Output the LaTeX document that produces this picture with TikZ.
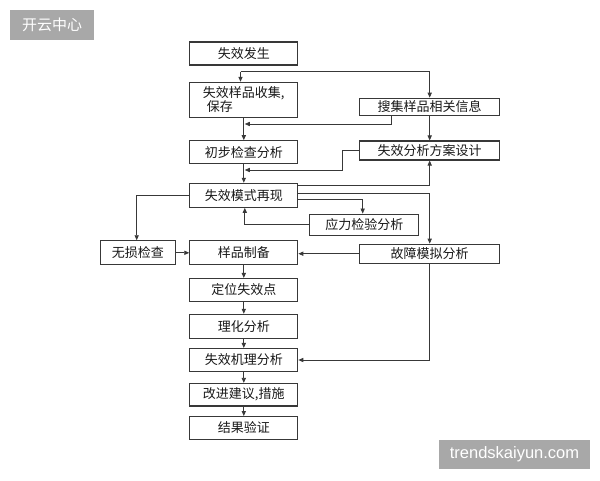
\documentclass[tikz,border=0pt]{standalone}
\usepackage{fontspec}
\setmainfont{Noto Sans CJK SC}
\newfontfamily\latinfont{Liberation Sans}
\usetikzlibrary{arrows.meta}
\definecolor{linec}{HTML}{383838}
\definecolor{wmgrey}{HTML}{A8A8A8}
\begin{document}
\begin{tikzpicture}[x=1pt,y=-1pt,
  box/.style={draw=linec,line width=1.1pt,inner sep=0pt,text=black!90,
    font=\fontsize{13}{14}\selectfont},
  conn/.style={draw=linec,line width=0.8pt,-{Triangle[length=5pt,width=4.2pt]}},
  wmark/.style={fill=wmgrey,inner sep=0pt,text=white}]
\useasboundingbox[fill=white] (0,0) rectangle (600,480);

% watermarks
\node[wmark,minimum width=84pt,minimum height=30pt,font=\fontsize{15}{16}\selectfont] (wm1) at (52,25) {开云中心};
\node[wmark,minimum width=151pt,minimum height=29pt,font=\latinfont\fontsize{16.5}{17}\selectfont] (wm2) at (514.5,454.6) {trendskaiyun.com};

% boxes
\node[box,minimum width=108pt,minimum height=23pt] (A) at (243.8,53.5) {失效发生};
\node[box,minimum width=108pt,minimum height=35pt,align=left] (B) at (243.8,99.8) {失效样品收集,\\\hspace{4pt}保存};
\node[box,minimum width=140pt,minimum height=17pt] (C) at (429.7,106.7) {搜集样品相关信息};
\node[box,minimum width=108pt,minimum height=23pt] (D) at (243.8,152.2) {初步检查分析};
\node[box,minimum width=140pt,minimum height=19pt] (E) at (429.7,150.5) {失效分析方案设计};
\node[box,minimum width=108pt,minimum height=24pt] (F) at (243.8,195.3) {失效模式再现};
\node[box,minimum width=109pt,minimum height=21pt] (G) at (364.3,224.6) {应力检验分析};
\node[box,minimum width=75pt,minimum height=24pt] (H) at (137.8,252.8) {无损检查};
\node[box,minimum width=108pt,minimum height=23.5pt] (I) at (243.8,252.5) {样品制备};
\node[box,minimum width=140pt,minimum height=19pt] (J) at (429.7,253.7) {故障模拟分析};
\node[box,minimum width=108pt,minimum height=23pt] (K) at (243.8,290) {定位失效点};
\node[box,minimum width=108pt,minimum height=24pt] (L) at (243.8,326.3) {理化分析};
\node[box,minimum width=108pt,minimum height=23pt] (M) at (243.8,360) {失效机理分析};
\node[box,minimum width=108pt,minimum height=22.5pt] (N) at (243.8,394.7) {改进建议,措施};
\node[box,minimum width=108pt,minimum height=22.5pt] (O) at (243.8,427.8) {结果验证};

% connectors
\coordinate (s1) at (240.5,71.7);
\draw[conn] (s1) -- (s1 |- B.north);
\draw[conn] (s1) -| (C.north);
\draw[conn] (C.south -| 391,0) |- ([xshift=1pt]B.south |- 0,124);
\draw[conn] (B) -- (D);
\draw[conn] (C) -- (E);
\draw[conn] (E.west) -- (342.3,150.5) |- ([xshift=1pt]D.south |- 0,170);
\draw[conn] (D) -- (F);
\draw[conn] (F.east |- 0,185) -| (E.south);
\draw[conn] (F.east |- 0,193) -| (J.north);
\draw[conn] (F.east |- 0,199) -| (G.north -| 362.7,0);
\draw[conn] (G.west) -| ([xshift=1pt]F.south);
\draw[conn] (F.west) -| (H.north -| 136.7,0);
\draw[conn] (H.east) -- (H.east -| I.west);
\draw[conn] (J.west) -- (J.west -| I.east);
\draw[conn] (I) -- (K);
\draw[conn] (K) -- (L);
\draw[conn] (L) -- (M);
\draw[conn] (M) -- (N);
\draw[conn] (N) -- (O);
\draw[conn] (J.south) |- (M.east);
\end{tikzpicture}
\end{document}
